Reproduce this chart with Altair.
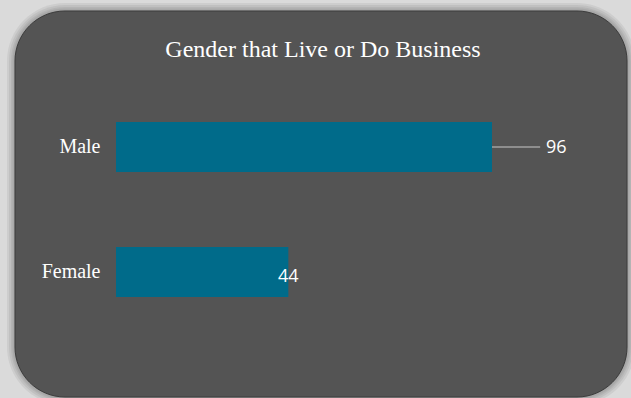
import altair as alt
import pandas as pd

genders = ["Male", "Female"]
counts = [96, 44]
title_text = "Gender that Live or Do Business"

df = pd.DataFrame({"gender": genders, "count": counts})

W, H = 470, 250
PAD = {"left": 116, "top": 84.5, "right": 45, "bottom": 63.5}

xscale = alt.Scale(domain=[0, 120], nice=False)
yscale = alt.Scale(domain=genders, paddingInner=0.6, paddingOuter=0.3)

base = alt.Chart(df)

# decorative panel (rounded box + soft shadow), placed in pixels relative to the plot area
def panel(grow, color, opacity, stroke=None):
    kw = dict(color=color, opacity=opacity, cornerRadius=50 + grow)
    if stroke:
        kw.update(stroke=stroke, strokeWidth=1)
    return alt.Chart(pd.DataFrame({"k": [0]})).mark_rect(**kw).encode(
        x=alt.value(-101 - grow), x2=alt.value(511 + grow),
        y=alt.value(-73.5 - grow), y2=alt.value(312.5 + grow),
    )

shadows = [panel(g, "#000000", 0.06) for g in (8, 6, 4, 2.5, 1)]
box = panel(0, "#545454", 1, stroke="#3c3c3c")

bars = base.mark_bar(color="#006b8a").encode(
    x=alt.X("count:Q", scale=xscale, axis=None),
    y=alt.Y("gender:N", scale=yscale, sort=genders, title=None,
            axis=alt.Axis(domain=False, ticks=False, grid=False, labelPadding=16,
                          labelFont="Liberation Serif", labelFontSize=20, zindex=2,
                          labelColor="#ffffff", labelBaseline="middle")),
)

leader = base.transform_filter(alt.datum.gender == "Male").transform_calculate(
    end="datum.count + 12.3"
).mark_rule(color="#c8c8c8", strokeWidth=1.2).encode(
    x=alt.X("count:Q", scale=xscale),
    x2="end:Q",
    y=alt.Y("gender:N", scale=yscale, sort=genders),
)

lab_out = base.transform_filter(alt.datum.gender == "Male").mark_text(
    align="left", baseline="middle", dx=54, dy=1, font="Open Sans", fontSize=18, color="#ffffff"
).encode(
    x=alt.X("count:Q", scale=xscale),
    y=alt.Y("gender:N", scale=yscale, sort=genders),
    text="count:Q",
)

lab_in = base.transform_filter(alt.datum.gender == "Female").mark_text(
    align="center", baseline="middle", dy=5, font="Open Sans", fontSize=18, color="#ffffff"
).encode(
    x=alt.X("count:Q", scale=xscale),
    y=alt.Y("gender:N", scale=yscale, sort=genders),
    text="count:Q",
)

chart = alt.layer(*shadows, box, bars, leader, lab_out, lab_in).properties(
    width=W, height=H,
    padding=PAD,
    autosize=alt.AutoSizeParams(type="none"),
    title=alt.TitleParams(title_text, font="Liberation Serif", fontSize=24, fontWeight="normal",
                          color="#ffffff", anchor="middle", dx=-28, baseline="alphabetic",
                          offset=-78, zindex=2),
).configure(background="#dadada").configure_view(stroke=None)

chart.save("out.html", embed_options={"renderer": "svg", "actions": False})
